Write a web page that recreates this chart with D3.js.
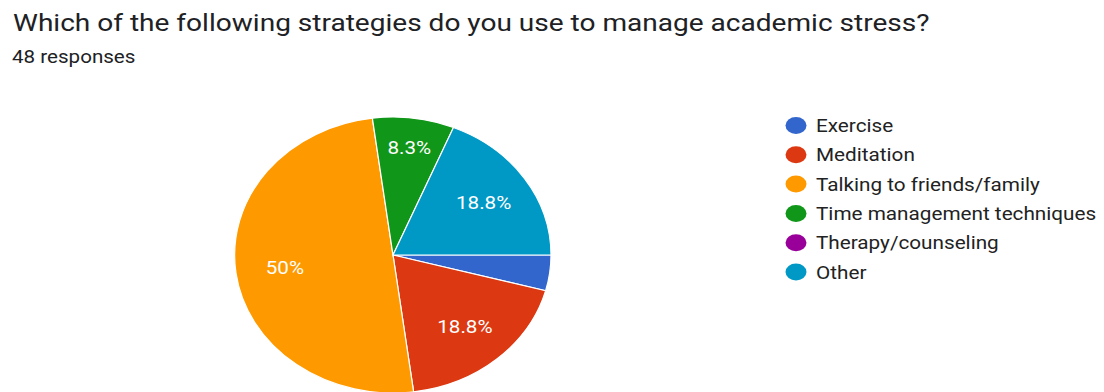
<!DOCTYPE html>
<html>
<head>
<meta charset="utf-8">
<script src="https://cdn.jsdelivr.net/npm/d3@7"></script>
<style>
  html, body { margin: 0; padding: 0; background: #fff; }
  svg { display: block; font-family: Roboto, "Noto Sans", Arial, sans-serif; }
</style>
</head>
<body>
<svg id="chart" width="1104" height="392"></svg>
<script>
// Survey answers (48 responses)
const titleText = "Which of the following strategies do you use to manage academic stress?";
const subtitleText = "48 responses";
const categories = ["Exercise", "Meditation", "Talking to friends/family", "Time management techniques", "Therapy/counseling", "Other"];
const counts = [2, 9, 24, 4, 0, 9];
const colors = ["#3366cc", "#dc3912", "#ff9900", "#109618", "#990099", "#0099c6"];

const W = 1104, H = 392;
const sx = 1.145;            // horizontal stretch of the whole layout
const svg = d3.select("#chart");
svg.append("rect").attr("width", W).attr("height", H).attr("fill", "#fff");

// Title + response count
function stretchedText(sel, x, y) {
  return sel.attr("transform", `translate(${x},${y}) scale(${sx},1)`);
}
stretchedText(svg.append("text"), 13, 31)
  .attr("font-size", 24.5).attr("fill", "#202124").text(titleText);
stretchedText(svg.append("text"), 12, 63)
  .attr("font-size", 18).attr("fill", "#202124").text(subtitleText);

// Pie
const total = d3.sum(counts);
const R = 138, cx = 393, cy = 255;
const data = categories.map((c, i) => ({ name: c, value: counts[i], color: colors[i] }));
const pie = d3.pie().value(d => d.value).sort(null)
  .startAngle(Math.PI / 2).endAngle(Math.PI / 2 + 2 * Math.PI);
const arcs = pie(data);
const arc = d3.arc().innerRadius(0).outerRadius(R);

const g = svg.append("g").attr("transform", `translate(${cx},${cy}) scale(${sx},1)`);
g.selectAll("path").data(arcs.filter(a => a.value > 0)).join("path")
  .attr("d", arc)
  .attr("fill", d => d.data.color)
  .attr("stroke", "#fff")
  .attr("stroke-width", 1.2)
  .attr("vector-effect", "non-scaling-stroke");

// Percentage labels inside the slices
const fmt = v => {
  const p = v / total * 100;
  return (Math.round(p * 10) / 10).toString() + "%";
};
const labelLayer = svg.append("g");
arcs.forEach(a => {
  const share = a.value / total;
  if (share < 0.05) return;
  const txt = fmt(a.value);
  const t = labelLayer.append("text")
    .attr("font-size", 18).attr("fill", "#fff")
    .attr("text-anchor", "middle").text(txt);
  const w = t.node().getComputedTextLength();
  const half = (a.endAngle - a.startAngle) / 2;
  let rho = 0.69 * R;
  if (half < Math.PI / 2) rho = Math.max(rho, (w / 2 + 9) / Math.sin(half));
  rho = Math.min(rho, 0.85 * R);
  const mid = (a.startAngle + a.endAngle) / 2;
  const x = cx + Math.sin(mid) * rho * sx;
  const y = cy - Math.cos(mid) * rho + 6.5;
  t.attr("transform", `translate(${x},${y}) scale(${sx},1)`);
});

// Legend
const legend = svg.append("g");
const lx = 796, ly = 125.5, step = 29.3;
data.forEach((d, i) => {
  const y = ly + i * step;
  legend.append("ellipse")
    .attr("cx", lx).attr("cy", y).attr("rx", 10.5).attr("ry", 8.5)
    .attr("fill", d.color);
  legend.append("text")
    .attr("transform", `translate(816,${y + 6.5}) scale(${sx},1)`)
    .attr("font-size", 18.1).attr("fill", "#222").text(d.name);
});
</script>
</body>
</html>
